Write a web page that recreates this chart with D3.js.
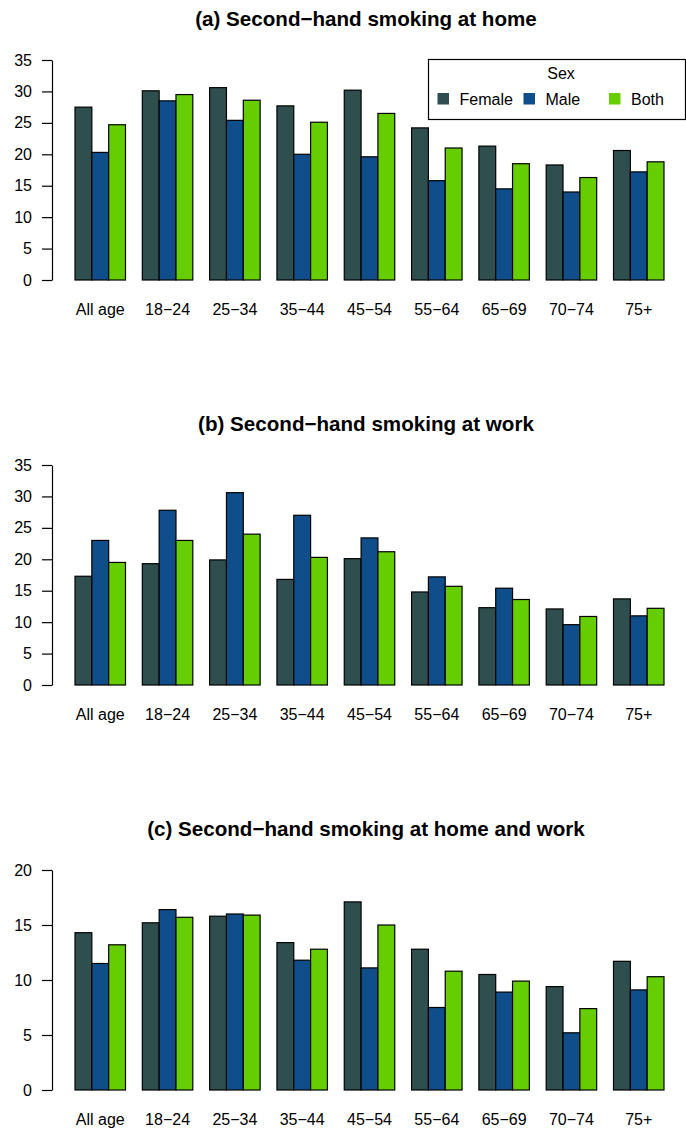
<!DOCTYPE html>
<html>
<head>
<meta charset="utf-8">
<script src="https://cdn.jsdelivr.net/npm/d3@7"></script>
<style>
  body { margin: 0; background: #fff; }
  svg text { font-family: "Liberation Sans", Arial, sans-serif; fill: #000; }
</style>
</head>
<body>
<div id="chart"></div>
<script>
const width = 686
const height = 1130

// datos
const ages = ["All age", "18−24", "25−34", "35−44", "45−54", "55−64", "65−69", "70−74", "75+"]
const sexes = ["Female", "Male", "Both"]
const colors = ["#2F4F4F", "#104E8B", "#66CD00"]

const titles = [
    "(a) Second−hand smoking at home",
    "(b) Second−hand smoking at work",
    "(c) Second−hand smoking at home and work"
]
const yMax = [35, 35, 20]
const yTicks = [
    [0, 5, 10, 15, 20, 25, 30, 35],
    [0, 5, 10, 15, 20, 25, 30, 35],
    [0, 5, 10, 15, 20]
]

const homeFemale = [27.5, 30.1, 30.6, 27.7, 30.2, 24.2, 21.3, 18.3, 20.6]
const homeMale   = [20.3, 28.5, 25.4, 20.0, 19.6, 15.8, 14.5, 14.0, 17.2]
const homeBoth   = [24.7, 29.5, 28.6, 25.1, 26.5, 21.0, 18.5, 16.3, 18.8]

const workFemale = [17.3, 19.3, 19.9, 16.8, 20.1, 14.8, 12.3, 12.1, 13.7]
const workMale   = [23.0, 27.8, 30.6, 27.0, 23.4, 17.2, 15.4, 9.6, 11.0]
const workBoth   = [19.5, 23.0, 24.0, 20.3, 21.2, 15.7, 13.6, 10.9, 12.2]

const bothFemale = [14.3, 15.2, 15.8, 13.4, 17.1, 12.8, 10.5, 9.4, 11.7]
const bothMale   = [11.5, 16.4, 16.0, 11.8, 11.1, 7.5, 8.9, 5.2, 9.1]
const bothBoth   = [13.2, 15.7, 15.9, 12.8, 15.0, 10.8, 9.9, 7.4, 10.3]

const panels = [
    [homeFemale, homeMale, homeBoth],
    [workFemale, workMale, workBoth],
    [bothFemale, bothMale, bothBoth]
]

const svg = d3.select("#chart").append("svg").attr("width", width).attr("height", height)

// escalas
const x0 = d3.scaleBand().domain(ages).range([66.6, 672.4]).paddingInner(0.25).paddingOuter(0.125)
const x1 = d3.scaleBand().domain(sexes).range([0, x0.bandwidth()])
const color = d3.scaleOrdinal().domain(sexes).range(colors)

panels.forEach((series, p) => {
    const top = 60 + p * 405
    const bottom = 280 + p * 405
    const y = d3.scaleLinear().domain([0, yMax[p]]).range([bottom, top])

    const g = svg.append("g").attr("class", "panel")

    g.append("text")
        .attr("x", 366).attr("y", 26 + p * 405)
        .attr("text-anchor", "middle")
        .style("font-size", "20.6px").style("font-weight", "bold")
        .text(titles[p])

    const rows = ages.map((a, i) => ({ age: a, values: sexes.map((s, j) => ({ sex: s, v: series[j][i] })) }))

    g.selectAll("g.group").data(rows).enter()
        .append("g").attr("class", "group")
        .attr("transform", d => `translate(${x0(d.age)},0)`)
        .selectAll("rect").data(d => d.values).enter()
        .append("rect")
            .attr("x", d => x1(d.sex))
            .attr("y", d => y(d.v))
            .attr("width", x1.bandwidth())
            .attr("height", d => bottom - y(d.v))
            .attr("fill", d => color(d.sex))
            .attr("stroke", "#000")
            .attr("stroke-width", 1.2)

    // ejes
    const yAxisGroup = g.append("g").attr("transform", "translate(52,0)")
        .call(d3.axisLeft(y).tickValues(yTicks[p]).tickSize(10).tickSizeOuter(0).tickPadding(10))
    yAxisGroup.selectAll("text").style("font-size", "16px").attr("fill", "#000")
    yAxisGroup.selectAll("line, path").attr("stroke", "#000").attr("stroke-width", 1.2)

    const xAxisGroup = g.append("g").attr("transform", `translate(0,${bottom})`)
        .call(d3.axisBottom(x0).tickSize(0).tickPadding(24))
    xAxisGroup.select(".domain").remove()
    xAxisGroup.selectAll("text").style("font-size", "16px").attr("fill", "#000")
})

// leyenda
const legend = svg.append("g").attr("class", "legend")
legend.append("rect")
    .attr("x", 428.5).attr("y", 59.5).attr("width", 257).attr("height", 60)
    .attr("fill", "#fff").attr("stroke", "#000").attr("stroke-width", 1.2)
legend.append("text")
    .attr("x", 561).attr("y", 78.5).attr("text-anchor", "middle")
    .style("font-size", "16px").text("Sex")

const legendX = d3.scaleOrdinal().domain(sexes).range([437.5, 523.5, 609])
const items = legend.selectAll("g.item").data(sexes).enter()
    .append("g").attr("class", "item")
    .attr("transform", d => `translate(${legendX(d)},93)`)
items.append("rect")
    .attr("width", 11.5).attr("height", 11.5)
    .attr("fill", d => color(d))
items.append("text")
    .attr("x", 22).attr("y", 12.3)
    .style("font-size", "16px")
    .text(d => d)
</script>
</body>
</html>
